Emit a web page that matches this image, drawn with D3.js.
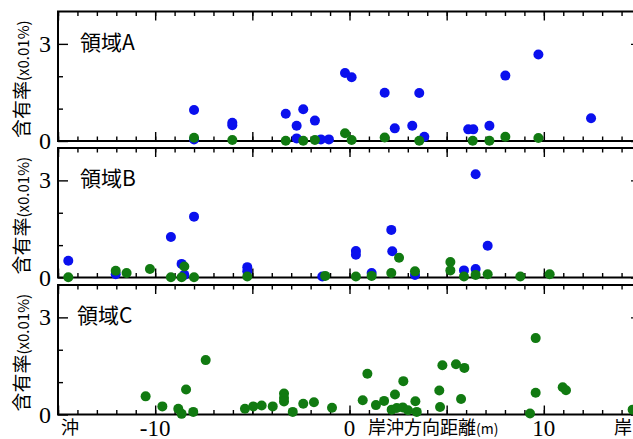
<!DOCTYPE html>
<html><head><meta charset="utf-8">
<script src="https://cdn.jsdelivr.net/npm/d3@7"></script>
<style>body{margin:0;background:#fff}svg{display:block}</style>
</head><body>
<svg id="c" width="633" height="439"></svg>
<script>
// ---- data ----
const panelNames = ["領域A", "領域B", "領域C"];
const xMajorTicks = [-10, 0, 10];
const yMajorTicks = [0, 3];
const blueA = [[-8.0,0.96],[-8.0,0.05],[-6.03,0.56],[-6.03,0.49],[-3.28,0.84],[-2.72,0.47],[-2.72,0.08],[-2.38,0.98],[-1.78,0.63],[-1.47,0.05],[-1.06,0.05],[-0.23,2.1],[0.11,1.97],[1.81,1.49],[2.33,0.39],[3.23,0.47],[3.59,1.48],[3.85,0.13],[6.11,0.36],[6.37,0.36],[7.2,0.47],[8.02,2.02],[9.72,2.67],[12.43,0.7]];
const greenA = [[-8.0,0.1],[-6.03,0.03],[-3.28,0.01],[-2.38,0.01],[-1.78,0.03],[-0.23,0.24],[0.11,0.03],[1.81,0.11],[3.59,0.01],[6.34,0.01],[7.2,0.01],[8.02,0.13],[9.72,0.09]];
const blueB = [[-14.47,0.52],[-12.03,0.1],[-9.19,1.25],[-8.64,0.42],[-8.5,0.08],[-8.0,1.88],[-5.26,0.32],[-5.26,0.19],[-1.4,0.03],[0.33,0.82],[0.33,0.7],[1.14,0.14],[2.15,1.47],[2.2,0.81],[3.37,0.08],[5.89,0.22],[6.49,3.19],[6.49,0.26],[7.11,0.98]];
const greenB = [[-14.47,0.01],[-12.03,0.21],[-11.47,0.14],[-10.27,0.26],[-9.19,0.01],[-8.64,0.01],[-8.5,0.34],[-8.0,0.01],[-5.26,0.03],[-1.25,0.05],[0.33,0.03],[1.14,0.05],[2.15,0.14],[2.55,0.61],[3.37,0.19],[5.19,0.48],[5.19,0.22],[5.89,0.03],[6.49,0.08],[7.11,0.1],[8.79,0.03],[10.3,0.1]];
const blueC = [];
const greenC = [[-10.49,0.56],[-9.63,0.25],[-8.81,0.18],[-8.64,0.02],[-8.41,0.77],[-8.04,0.08],[-7.4,1.68],[-5.38,0.18],[-4.95,0.25],[-4.52,0.28],[-3.95,0.25],[-3.37,0.65],[-3.37,0.51],[-3.37,0.4],[-2.92,0.08],[-2.38,0.33],[-1.83,0.38],[-0.9,0.21],[0.68,0.44],[0.92,1.26],[1.36,0.29],[1.78,0.42],[2.34,0.62],[2.77,1.03],[2.17,0.15],[2.43,0.2],[2.74,0.22],[3.01,0.13],[3.39,0.41],[3.46,0.08],[4.62,0.74],[4.66,0.23],[4.78,1.52],[5.48,1.55],[5.91,1.44],[5.74,0.48],[9.29,0.03],[9.58,2.36],[9.58,0.67],[10.97,0.84],[11.14,0.75],[14.57,0.15]];

// ---- layout ----
const svg = d3.select("#c");
const x = d3.scaleLinear().domain([-15, 15]).range([58, 641]);
const panelTops = [11.5, 148, 285];
const panelH = 129.5;
const panels = [
  {name: panelNames[0], top: panelTops[0], blue: blueA, green: greenA},
  {name: panelNames[1], top: panelTops[1], blue: blueB, green: greenB},
  {name: panelNames[2], top: panelTops[2], blue: blueC, green: greenC}
];
const BLUE = "#0a10ee", GREEN = "#117a11";
const serif = "'Liberation Serif','Times New Roman',serif";
const cjk = "'Noto Sans CJK JP','Noto Sans',sans-serif";
const minorX = d3.range(-15, 16, 1);
const majorX = d3.range(-15, 16, 5);

panels.forEach((p, i) => {
  const y = d3.scaleLinear().domain([0, 4]).range([p.top + panelH, p.top]);
  const g = svg.append("g");
  const bottom = p.top + panelH;

  const addAx = (axis, ty) => {
    const a = g.append("g").attr("transform", ty).call(axis);
    a.select(".domain").remove();
    a.selectAll("text").remove();
    a.selectAll("line").attr("stroke", "#000").attr("stroke-width", 1.4);
  };
  addAx(d3.axisBottom(x).tickValues(minorX).tickSize(-4.5), `translate(0,${bottom})`);
  addAx(d3.axisBottom(x).tickValues(majorX).tickSize(-9), `translate(0,${bottom})`);
  addAx(d3.axisTop(x).tickValues(minorX).tickSize(-4.5), `translate(0,${p.top})`);
  addAx(d3.axisTop(x).tickValues(majorX).tickSize(-9), `translate(0,${p.top})`);
  addAx(d3.axisLeft(y).tickValues([1, 2]).tickSize(-5), `translate(58,0)`);
  addAx(d3.axisLeft(y).tickValues(yMajorTicks).tickSize(-10), `translate(58,0)`);
  addAx(d3.axisRight(y).tickValues([1, 2]).tickSize(-5), `translate(641,0)`);
  addAx(d3.axisRight(y).tickValues(yMajorTicks).tickSize(-10), `translate(641,0)`);

  g.append("rect").attr("x", 58).attr("y", p.top).attr("width", 583).attr("height", panelH)
    .attr("fill", "none").attr("stroke", "#000").attr("stroke-width", 2);

  g.selectAll("text.yl").data(yMajorTicks).join("text").attr("class", "yl")
    .attr("x", 51).attr("y", d => y(d) + 8)
    .attr("text-anchor", "end").attr("font-family", serif).attr("font-size", 24)
    .text(d => d);

  const yl = g.append("text")
    .attr("transform", `translate(29,${p.top + panelH / 2 + 3}) rotate(-90)`)
    .attr("text-anchor", "middle").attr("font-family", cjk);
  yl.append("tspan").attr("font-size", 19).text("含有率");
  yl.append("tspan").attr("font-size", 15).text("(x0.01%)");

  g.append("text").attr("x", i === 2 ? 77 : 80).attr("y", p.top + 38)
    .attr("font-family", cjk).attr("font-size", 21).text(p.name);

  g.selectAll("circle.b").data(p.blue).join("circle").attr("class", "b")
    .attr("cx", d => x(d[0])).attr("cy", d => y(d[1])).attr("r", 5).attr("fill", BLUE);
  g.selectAll("circle.g").data(p.green).join("circle").attr("class", "g")
    .attr("cx", d => x(d[0])).attr("cy", d => y(d[1])).attr("r", 5).attr("fill", GREEN);
});

svg.selectAll("text.xl").data(xMajorTicks).join("text").attr("class", "xl")
  .attr("x", d => x(d)).attr("y", 435.5).attr("text-anchor", "middle")
  .attr("font-family", serif).attr("font-size", 23).text(d => d < 0 ? "-" + Math.abs(d) : d);

svg.append("text").attr("x", 70).attr("y", 434).attr("text-anchor", "middle")
  .attr("font-family", cjk).attr("font-size", 18).text("沖");
svg.append("text").attr("x", 623).attr("y", 434).attr("text-anchor", "middle")
  .attr("font-family", cjk).attr("font-size", 18).text("岸");
const xl = svg.append("text").attr("x", 368).attr("y", 434).attr("font-family", cjk);
xl.append("tspan").attr("font-size", 18).text("岸沖方向距離");
xl.append("tspan").attr("font-size", 14).text("(m)");
</script>
</body></html>
